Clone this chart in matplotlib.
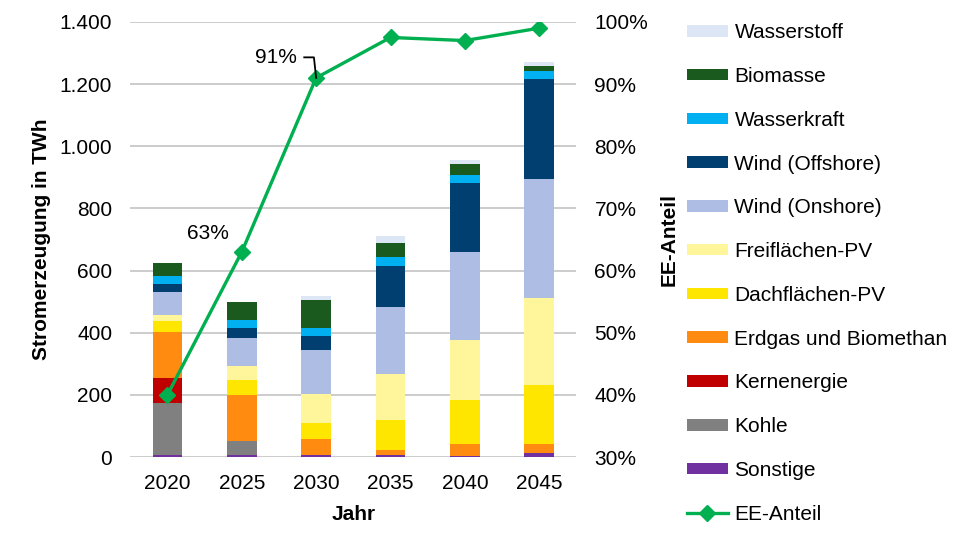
import matplotlib
matplotlib.use('Agg')
import matplotlib.pyplot as plt
from matplotlib.patches import Patch
from matplotlib.lines import Line2D
import numpy as np

plt.rcParams['font.family'] = ['Liberation Sans', 'DejaVu Sans']

jahre = ['2020', '2025', '2030', '2035', '2040', '2045']

# TWh je Energieträger (von unten nach oben gestapelt)
sonstige = [5, 5, 5, 5, 3, 12]
kohle = [168, 46, 0, 0, 0, 0]
kernenergie = [82, 0, 0, 0, 0, 0]
erdgas = [146, 150, 52, 17, 39, 30]
dach_pv = [37, 46, 52, 96, 141, 190]
frei_pv = [19, 45, 95, 150, 194, 279]
wind_on = [74, 91, 139, 214, 282, 383]
wind_off = [27, 32, 46, 133, 224, 323]
wasserkraft = [24, 27, 27, 28, 24, 26]
biomasse = [43, 58, 88, 46, 36, 14]
wasserstoff = [0, 0, 13, 23, 13, 14]

ee_anteil = [40, 63, 91, 97.5, 97, 99]

namen = ['Sonstige', 'Kohle', 'Kernenergie', 'Erdgas und Biomethan', 'Dachflächen-PV',
         'Freiflächen-PV', 'Wind (Onshore)', 'Wind (Offshore)', 'Wasserkraft',
         'Biomasse', 'Wasserstoff']
reihen = [sonstige, kohle, kernenergie, erdgas, dach_pv, frei_pv, wind_on, wind_off,
          wasserkraft, biomasse, wasserstoff]
farben = ['#7030a0', '#808080', '#c00000', '#ff8c10', '#ffe600', '#fff59a', '#aebde3',
          '#003f6f', '#00b0f0', '#1b5a1e', '#dce6f4']

fs = 15
fig = plt.figure(figsize=(9.72, 5.48), dpi=100)
ax = fig.add_axes([0.134, 0.166, 0.459, 0.794])

x = np.arange(len(jahre))
unten = np.zeros(len(jahre))
for name, werte, farbe in zip(namen, reihen, farben):
    ax.bar(x, werte, 0.4, bottom=unten, color=farbe, label=name, zorder=3)
    unten += np.array(werte)

ax.set_xlim(-0.5, 5.5)
ax.set_ylim(0, 1400)
ax.set_yticks(range(0, 1401, 200))
ax.set_yticklabels([f'{v:,}'.replace(',', '.') for v in range(0, 1401, 200)])
ax.set_xticks(x)
ax.set_xticklabels(jahre)
ax.grid(axis='y', color='#c4c4c4', lw=1.2, zorder=0)
for s in ax.spines.values():
    s.set_visible(False)
ax.tick_params(length=0, labelsize=fs)
ax.tick_params(axis='y', pad=13)
ax.tick_params(axis='x', pad=12)
ax.set_xlabel('Jahr', fontsize=fs, fontweight='bold', labelpad=9)
ax.set_ylabel('Stromerzeugung in TWh', fontsize=fs, fontweight='bold', labelpad=6)

ax2 = ax.twinx()
ax2.plot(x, ee_anteil, color='#00b050', lw=2.4, marker='D', markersize=8.5, zorder=5)
ax2.set_ylim(30, 100)
ax2.set_yticks(range(30, 101, 10))
ax2.set_yticklabels([f'{v}%' for v in range(30, 101, 10)])
for s in ax2.spines.values():
    s.set_visible(False)
ax2.tick_params(length=0, labelsize=fs, pad=13)
ax2.set_ylabel('EE-Anteil', fontsize=fs, fontweight='bold', labelpad=8)

ax2.text(0.54, 66.0, '63%', fontsize=fs, ha='center', va='center')
ax2.text(1.46, 94.3, '91%', fontsize=fs, ha='center', va='center')
ax2.plot([1.84, 1.97, 2.0], [94.3, 94.3, 91.0], color='black', lw=1.3, zorder=6)

handles = [Patch(facecolor=f, label=n) for n, f in zip(namen, farben)][::-1]
handles.append(Line2D([0], [0], color='#00b050', lw=2.4, marker='D', markersize=8.5,
                      label='EE-Anteil'))
fig.legend(handles=handles, loc='upper left', bbox_to_anchor=(0.687, 0.992),
           frameon=False, fontsize=fs, handlelength=2.0, handleheight=0.48,
           labelspacing=1.19, handletextpad=0.3)

fig.savefig('out.png', dpi=100)
